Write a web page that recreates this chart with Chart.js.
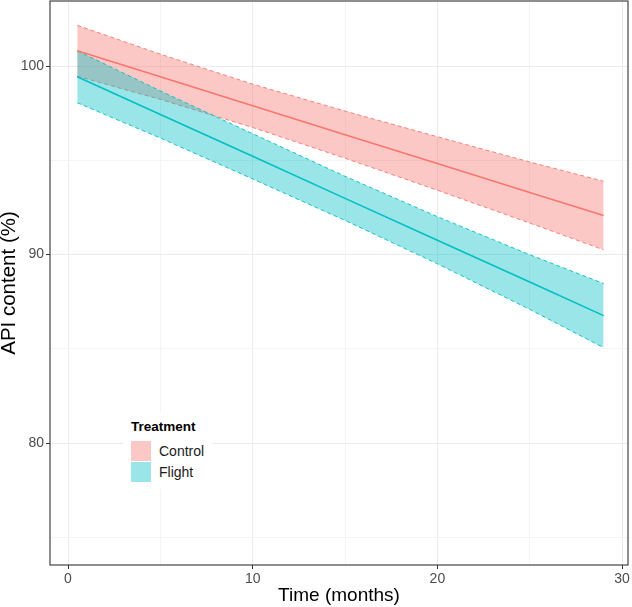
<!DOCTYPE html>
<html><head><meta charset="utf-8">
<script src="https://cdn.jsdelivr.net/npm/chart.js@4.4.0/dist/chart.umd.min.js"></script>
<style>
html,body{margin:0;padding:0;background:#fff;}
#wrap{position:relative;width:632px;height:607px;}
canvas{display:block;}
#legend{position:absolute;left:123px;top:413px;width:89px;height:76px;background:#fff;font-family:"Liberation Sans",Arial,sans-serif;color:#000;}
#legend .ttl{position:absolute;left:8px;top:6px;font-weight:bold;font-size:13.5px;line-height:16px;}
#legend .row{position:absolute;left:8px;height:20px;}
#legend .sw{position:absolute;left:0;top:0;width:20px;height:20px;}
#legend .lb{position:absolute;left:28px;top:2px;font-size:14px;line-height:16px;color:#1a1a1a;white-space:nowrap;}
</style>
</head><body>
<div id="wrap">
<canvas id="c" width="632" height="607"></canvas>
<div id="legend">
  <div class="ttl">Treatment</div>
  <div class="row" style="top:28px"><div class="sw" style="background:#FCC8C5"></div><div class="lb">Control</div></div>
  <div class="row" style="top:49px"><div class="sw" style="background:#99E5E7"></div><div class="lb">Flight</div></div>
</div>
</div>
<script>
// Data
const timeMonths   = [0.5, 5, 10, 15, 20, 25, 29];
const controlFit   = [100.81, 99.43, 97.89, 96.36, 94.83, 93.29, 92.07];
const controlUpper = [102.16, 100.63, 99.04, 97.61, 96.25, 94.91, 93.89];
const controlLower = [99.46, 98.23, 96.74, 95.11, 93.41, 91.67, 90.25];
const flightFit    = [99.43, 97.43, 95.21, 92.98, 90.76, 88.54, 86.76];
const flightUpper  = [100.81, 98.68, 96.41, 94.15, 92.01, 89.99, 88.46];
const flightLower  = [98.05, 96.18, 94.01, 91.81, 89.51, 87.09, 85.06];
const xTicks = [0, 5, 10, 15, 20, 25, 30];
const yTicks = [75, 80, 85, 90, 95, 100];
const xMajor = [0, 10, 20, 30];
const yMajor = [80, 90, 100];

const pts = arr => arr.map((v, i) => ({x: timeMonths[i], y: v}));
const CTRL = '#F8766D', FLT = '#00BFC4';
const CTRL_FILL = 'rgba(248,118,109,0.4)', FLT_FILL = 'rgba(0,191,196,0.4)';

const edge = (label, data, color, order, fill, bg) => ({
  label, data: pts(data), borderColor: color, borderWidth: 0.9, borderDash: [4, 3],
  pointRadius: 0, tension: 0, order, fill: fill === undefined ? false : fill,
  backgroundColor: bg || 'transparent'
});

const borderPlugin = {
  id: 'panelBorder',
  afterDraw(chart) {
    const {ctx, chartArea: a} = chart;
    ctx.save();
    ctx.strokeStyle = '#333333';
    ctx.lineWidth = 1.1;
    ctx.strokeRect(a.left, a.top, a.right - a.left, a.bottom - a.top);
    ctx.restore();
  }
};

const font = 'Liberation Sans';
new Chart(document.getElementById('c'), {
  type: 'line',
  data: {
    datasets: [
      edge('Control lower', controlLower, CTRL, 6),
      edge('Control upper', controlUpper, CTRL, 5, {target: 0}, CTRL_FILL),
      edge('Flight lower', flightLower, FLT, 4),
      edge('Flight upper', flightUpper, FLT, 3, {target: 2}, FLT_FILL),
      {label: 'Control', data: pts(controlFit), borderColor: CTRL, borderWidth: 1.6, pointRadius: 0, fill: false, order: 2},
      {label: 'Flight', data: pts(flightFit), borderColor: FLT, borderWidth: 1.6, pointRadius: 0, fill: false, order: 1}
    ]
  },
  options: {
    responsive: false,
    animation: false,
    devicePixelRatio: 1,
    layout: {padding: {top: 1, right: 4, left: 0, bottom: 0}},
    plugins: {legend: {display: false}, tooltip: {enabled: false}},
    scales: {
      x: {
        type: 'linear', min: -0.975, max: 30.32,
        afterBuildTicks: ax => { ax.ticks = xTicks.map(v => ({value: v})); },
        afterFit: ax => { ax.height = 42; ax.paddingLeft = 0; ax.paddingRight = 0; },
        ticks: {
          callback: v => xMajor.includes(v) ? String(v) : '',
          font: {family: font, size: 14}, color: '#4D4D4D', padding: 2, maxRotation: 0, autoSkip: false
        },
        grid: {
          color: c => xMajor.includes(c.tick && c.tick.value) ? '#EBEBEB' : '#F4F4F4',
          lineWidth: 1,
          tickColor: c => xMajor.includes(c.tick && c.tick.value) ? '#333333' : 'rgba(0,0,0,0)',
          tickLength: 4
        },
        border: {display: false},
        title: {display: true, text: 'Time (months)', font: {family: font, size: 19, lineHeight: 1}, color: '#000', padding: {top: 0, bottom: 1.5}}
      },
      y: {
        type: 'linear', min: 73.53, max: 103.45,
        afterBuildTicks: ax => { ax.ticks = yTicks.map(v => ({value: v})); },
        afterFit: ax => { ax.width = 50; ax.paddingTop = 0; ax.paddingBottom = 0; },
        ticks: {
          callback: v => yMajor.includes(v) ? String(v) : '',
          font: {family: font, size: 14}, color: '#4D4D4D', padding: 2, autoSkip: false
        },
        grid: {
          color: c => yMajor.includes(c.tick && c.tick.value) ? '#EBEBEB' : '#F4F4F4',
          lineWidth: 1,
          tickColor: c => yMajor.includes(c.tick && c.tick.value) ? '#333333' : 'rgba(0,0,0,0)',
          tickLength: 4
        },
        border: {display: false},
        title: {display: true, text: 'API content (%)', font: {family: font, size: 20.5, lineHeight: 1}, color: '#000', padding: {top: -1, bottom: 0}}
      }
    }
  },
  plugins: [borderPlugin]
});
</script>
</body></html>
